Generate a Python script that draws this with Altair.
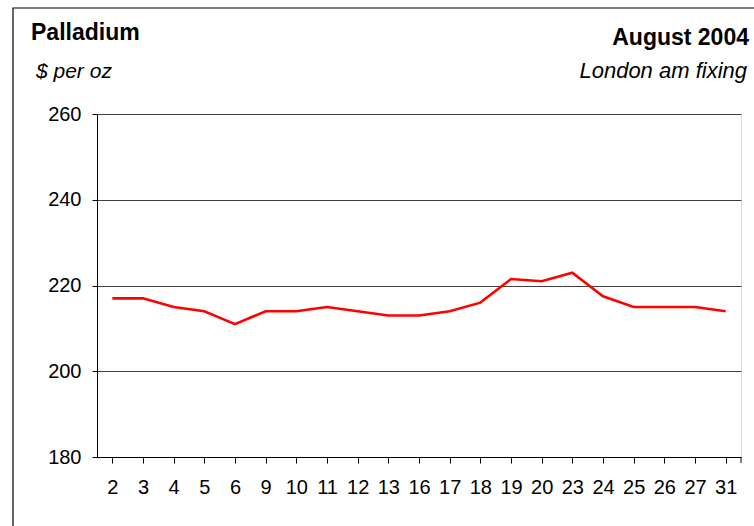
import altair as alt
import pandas as pd

days = ["2", "3", "4", "5", "6", "9", "10", "11", "12", "13", "16", "17", "18",
        "19", "20", "23", "24", "25", "26", "27", "31"]
prices = [217, 217, 215, 214, 211, 214, 214, 215, 214, 213, 213, 214, 216,
          221.5, 221, 223, 217.5, 215, 215, 215, 214]
y_ticks = [180, 200, 220, 240, 260]

df = pd.DataFrame({"day": days, "price": prices})

W, H = 644, 343
FONT = "Liberation Sans"

one = alt.Chart(alt.Data(values=[{"k": 1}]))

line = alt.Chart(df).mark_line(color="#ff0000", strokeWidth=2.6).encode(
    x=alt.X("day:N", sort=days, title=None,
            scale=alt.Scale(paddingInner=0, paddingOuter=0),
            axis=alt.Axis(bandPosition=0, labelAngle=0, labelFontSize=20,
                          labelFont=FONT, labelColor="#000", tickColor="#000",
                          tickSize=6, domainColor="#000", labelPadding=14,
                          grid=False)),
    y=alt.Y("price:Q", title=None,
            scale=alt.Scale(domain=[180, 260], nice=False, zero=False),
            axis=alt.Axis(values=y_ticks, labelFontSize=20, labelFont=FONT,
                          labelColor="#000", tickColor="#000", tickSize=5,
                          domainColor="#000", labelPadding=11,
                          gridColor="#404040", gridWidth=1, gridOpacity=1)),
)

end_tick = one.mark_rule(color="#000", strokeWidth=1).encode(
    x=alt.value(W), y=alt.value(H), y2=alt.value(H + 6))

frame = one.mark_rect(fill=None, stroke="#000", strokeWidth=1.2, clip=False).encode(
    x=alt.value(-84), y=alt.value(-106), x2=alt.value(W + 40), y2=alt.value(H + 100))

def label(txt, x, y, align, bold=False, italic=False, size=22):
    return one.mark_text(text=txt, align=align, baseline="alphabetic",
                         font=FONT, fontSize=size,
                         fontWeight="bold" if bold else "normal",
                         fontStyle="italic" if italic else "normal",
                         color="#000").encode(x=alt.value(x), y=alt.value(y))

texts = (label("Palladium", -66, -74, "left", bold=True, size=23)
         + label("$ per oz", -61, -36, "left", italic=True, size=21)
         + label("August 2004", 652, -69, "right", bold=True, size=23)
         + label("London am fixing", 650, -36, "right", italic=True, size=22))

chart = alt.layer(frame, line, end_tick, texts).properties(
    width=W, height=H,
    autosize=alt.AutoSizeParams(type="none"),
    padding={"left": 97, "top": 114, "right": 13, "bottom": 69},
).configure_view(stroke=None).configure(background="white")

chart.save("out.html", embed_options={"renderer": "svg", "actions": False})
